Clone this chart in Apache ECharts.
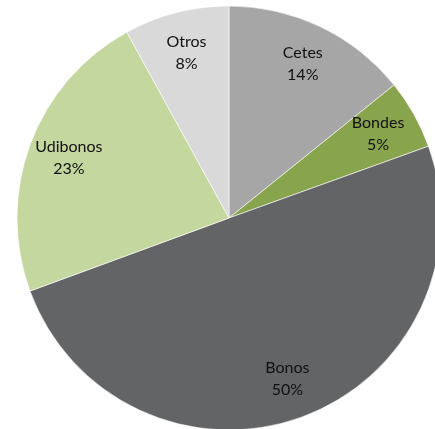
<!DOCTYPE html>
<html>
<head>
<meta charset="utf-8">
<script src="https://cdn.jsdelivr.net/npm/echarts@6/dist/echarts.min.js"></script>
<style>
  html, body { margin: 0; padding: 0; background: #fff; }
  #chartpie { width: 435px; height: 429px; }
</style>
</head>
<body>
<div id="chartpie"></div>
<script>
// valores (porcentaje)
const categories = ["Cetes", "Bondes", "Bonos", "Udibonos", "Otros"];
const values = [14.2, 5.3, 49.9, 22.6, 8.0];
const colors = ["#a6a6a6", "#88a44d", "#636466", "#c4d79f", "#d9d9d9"];

const pieData = categories.map((name, i) => ({
  name: name,
  value: values[i],
  itemStyle: { color: colors[i] },
}));

const chart = echarts.init(document.getElementById("chartpie"));
chart.setOption({
  animation: false,
  series: [
    {
      type: "pie",
      center: [229, 218],
      radius: [0, 212],
      startAngle: 90,
      clockwise: true,
      silent: true,
      itemStyle: { borderColor: "#ffffff", borderWidth: 0.6 },
      label: { show: false },
      labelLine: { show: false },
      data: pieData,
    },
    {
      // serie transparente solo para colocar las etiquetas hacia el borde
      type: "pie",
      center: [229, 218],
      radius: [124, 212],
      startAngle: 90,
      clockwise: true,
      silent: true,
      itemStyle: { color: "transparent", borderWidth: 0 },
      label: {
        show: true,
        position: "inside",
        color: "#111111",
        fontFamily: "Lato",
        fontSize: 16,
        lineHeight: 22,
        formatter: (p) => p.name + "\n" + Math.round(p.value) + "%",
      },
      labelLine: { show: false },
      data: categories.map((name, i) => ({ name: name, value: values[i] })),
    },
  ],
});
</script>
</body>
</html>
